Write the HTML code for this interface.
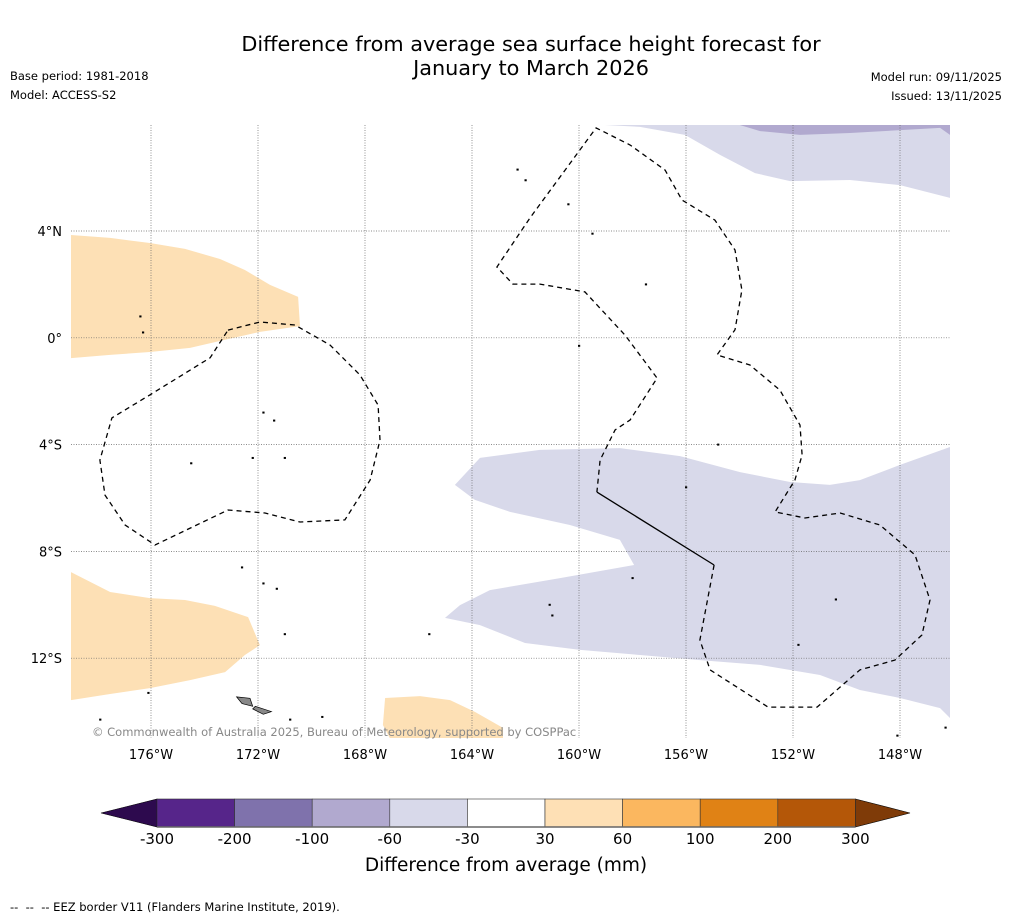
<!DOCTYPE html>
<html><head><meta charset="utf-8"><style>
body{margin:0;background:#fff;font-family:"DejaVu Sans","Liberation Sans",sans-serif;}
#wrap{position:relative;width:1011px;height:919px;overflow:hidden;}
.t{position:absolute;white-space:nowrap;color:#000;}
svg text{font-family:"DejaVu Sans","Liberation Sans",sans-serif;}
</style></head><body>
<div id="wrap">
<div class="t" style="left:0;width:1062px;text-align:center;top:32px;font-size:20.8px;line-height:24px;">Difference from average sea surface height forecast for<br>January to March 2026</div>
<div class="t" style="left:10px;top:69px;font-size:11.5px;">Base period: 1981-2018</div>
<div class="t" style="left:10px;top:88px;font-size:11.5px;">Model: ACCESS-S2</div>
<div class="t" style="right:9px;top:70px;font-size:11.5px;">Model run: 09/11/2025</div>
<div class="t" style="right:9px;top:89px;font-size:11.5px;">Issued: 13/11/2025</div>
<div class="t" style="left:10px;top:900px;font-size:11.5px;">-- &nbsp;-- &nbsp;-- EEZ border V11 (Flanders Marine Institute, 2019).</div>
<svg id="map" width="1011" height="919" style="position:absolute;left:0;top:0"></svg>
</div>
<script>
const lonTicks=[-176,-172,-168,-164,-160,-156,-152,-148];
const latTicks=[4,0,-4,-8,-12];
const lonLabels=["176°W","172°W","168°W","164°W","160°W","156°W","152°W","148°W"];
const latLabels=["4°N","0°","4°S","8°S","12°S"];
const orangeNorth=[[-179,3.85],[-177.53,3.74],[-176.04,3.55],[-174.73,3.33],[-173.42,2.95],[-172.49,2.54],[-171.55,1.98],[-170.5,1.53],[-170.43,0.44],[-171.93,0.22],[-173.23,-0.07],[-174.54,-0.38],[-176.04,-0.53],[-177.53,-0.64],[-179,-0.76]];
const orangeSouthWest=[[-179,-8.77],[-177.53,-9.52],[-176.04,-9.75],[-174.73,-9.82],[-173.61,-10.04],[-172.37,-10.46],[-171.93,-11.51],[-172.49,-11.88],[-173.23,-12.52],[-174.54,-12.82],[-176.04,-13.12],[-177.53,-13.34],[-179,-13.57]];
const orangeSouth=[[-167.25,-13.49],[-165.94,-13.42],[-164.82,-13.57],[-163.89,-14.01],[-162.84,-14.61],[-162.84,-15],[-167.07,-15],[-167.33,-14.5]];
const lavenderSouth=[[-164.64,-5.51],[-163.7,-4.5],[-161.46,-4.2],[-158.47,-4.13],[-156.22,-4.43],[-153.98,-5.03],[-152.11,-5.4],[-150.62,-5.51],[-149.5,-5.33],[-148,-4.76],[-146.13,-4.09],[-146.13,-14.24],[-146.5,-13.87],[-148,-13.49],[-149.5,-13.19],[-150.99,-12.63],[-153.23,-12.25],[-155.48,-12.07],[-157.72,-11.88],[-159.96,-11.69],[-162.02,-11.43],[-163.7,-10.76],[-165.01,-10.49],[-164.45,-10.01],[-163.33,-9.45],[-160.71,-9.0],[-157.94,-8.51],[-158.47,-7.57],[-160.34,-7.01],[-162.58,-6.52],[-163.89,-6.07]];
const lavenderNorth=[[-159.59,8],[-157.72,7.9],[-156.04,7.6],[-154.73,6.85],[-153.42,6.17],[-152.11,5.87],[-149.87,5.91],[-148,5.72],[-146.13,5.24],[-146.13,8]];
const purpleNorth=[[-154.09,8],[-153.23,7.74],[-151.74,7.6],[-149.87,7.67],[-146.5,7.86],[-146.13,7.6],[-146.13,8]];
const eezPhoenix=[[-173.12,0.29],[-171.93,0.59],[-170.62,0.48],[-169.31,-0.27],[-168.19,-1.39],[-167.51,-2.52],[-167.44,-3.83],[-167.81,-5.33],[-168.75,-6.82],[-170.43,-6.9],[-171.74,-6.56],[-173.12,-6.45],[-175.85,-7.76],[-176.97,-7.01],[-177.72,-5.89],[-177.91,-4.58],[-177.46,-3.0],[-176.04,-2.14],[-173.79,-0.75],[-173.12,0.29]];
const eezLine=[[-154.95,-8.51],[-155.48,-11.32],[-155.1,-12.44],[-152.93,-13.83],[-151.1,-13.83],[-149.5,-12.44],[-148.19,-12.07],[-147.18,-11.13],[-146.88,-9.82],[-147.44,-8.13],[-148.75,-7.01],[-150.24,-6.56],[-151.55,-6.75],[-152.67,-6.52],[-151.93,-5.33],[-151.66,-4.39],[-151.74,-3.27],[-152.49,-1.96],[-153.61,-1.02],[-154.84,-0.64],[-154.17,0.3],[-153.91,1.79],[-154.17,3.29],[-154.92,4.41],[-156.15,5.16],[-156.78,6.28],[-158.09,7.22],[-159.36,7.86],[-160.52,6.28],[-161.83,4.49],[-163.07,2.65],[-162.47,2.01],[-161.46,2.01],[-159.78,1.72],[-158.28,0.1],[-157.08,-1.51],[-158.09,-3.08],[-158.65,-3.45],[-159.21,-4.58],[-159.33,-5.78]];
const eezSolid=[[-159.33,-5.78],[-154.95,-8.51]];
const islands=[[-176.4,0.8],[-176.3,0.2],[-171.8,-2.8],[-171.4,-3.1],[-172.2,-4.5],[-171.0,-4.5],[-174.5,-4.7],[-159.5,3.9],[-157.5,2.0],[-162.3,6.3],[-162.0,5.9],[-160.4,5.0],[-160.0,-0.3],[-154.8,-4.0],[-156.0,-5.6],[-158.0,-9.0],[-161.1,-10.0],[-161.0,-10.4],[-150.4,-9.8],[-151.8,-11.5],[-165.6,-11.1],[-176.1,-13.3],[-177.9,-14.3],[-170.8,-14.3],[-169.6,-14.2],[-148.1,-14.9],[-146.3,-14.6],[-172.6,-8.6],[-171.8,-9.2],[-171.3,-9.4],[-171.0,-11.1]];
const samoa=[[[-172.8,-13.45],[-172.3,-13.5],[-172.2,-13.8],[-172.6,-13.7]],[[-172.1,-13.8],[-171.5,-14.0],[-171.8,-14.1],[-172.2,-13.9]]];
const cbBounds=["-300","-200","-100","-60","-30","30","60","100","200","300"];
const cbColors=["#56258a","#7f72ac","#b1a9cf","#d8d9ea","#ffffff","#fee0b5","#fbb75f","#e08215","#b45708"];

const NS='http://www.w3.org/2000/svg';
const svg=document.getElementById('map');
const X=lon=>151+(lon+176)*26.75;
const Y=lat=>231-(lat-4)*26.7;
function el(tag,attrs,parent){const e=document.createElementNS(NS,tag);for(const k in attrs)e.setAttribute(k,attrs[k]);(parent||svg).appendChild(e);return e;}
const pts=a=>a.map(p=>X(p[0]).toFixed(1)+','+Y(p[1]).toFixed(1)).join(' ');
const clip=el('clipPath',{id:'mc'});el('rect',{x:71,y:125,width:879,height:613},clip);
const g=el('g',{'clip-path':'url(#mc)'});


function poly(a,fill,name){const p=el('polygon',{points:pts(a),fill:fill},g);}
poly(orangeNorth,'#fde0b5','anomaly-30-60-north');
poly(orangeSouthWest,'#fde0b5','anomaly-30-60-southwest');
poly(orangeSouth,'#fde0b5','anomaly-30-60-south');
poly(lavenderSouth,'#d8d9ea','anomaly-neg60-neg30-south');
poly(lavenderNorth,'#d8d9ea','anomaly-neg60-neg30-north');
poly(purpleNorth,'#b1a9cf','anomaly-neg100-neg60-north');
lonTicks.forEach((v,i)=>{const l=el('line',{x1:X(v),x2:X(v),y1:125,y2:738,stroke:'#666','stroke-width':0.7,'stroke-dasharray':'1,1.5'},g);
 const t=el('text',{x:X(v),y:759,'text-anchor':'middle','font-size':13});t.textContent=lonLabels[i];});
latTicks.forEach((v,i)=>{const l=el('line',{x1:71,x2:950,y1:Y(v),y2:Y(v),stroke:'#666','stroke-width':0.7,'stroke-dasharray':'1,1.5'},g);
 const t=el('text',{x:62,y:Y(v)+5,'text-anchor':'end','font-size':13});t.textContent=latLabels[i];});
[eezPhoenix,eezLine].forEach(a=>{const p=el('polyline',{points:pts(a),fill:'none',stroke:'#000','stroke-width':1.3,'stroke-dasharray':'5,4'},g);});
const s=el('polyline',{points:pts(eezSolid),fill:'none',stroke:'#000','stroke-width':1.3},g);


islands.forEach(p=>{const r=el('rect',{x:X(p[0])-1,y:Y(p[1])-1,width:2.2,height:2,fill:'#000'},g);});
samoa.forEach(a=>{const p=el('polygon',{points:pts(a),fill:'#888',stroke:'#000','stroke-width':0.7},g);});
const cp=el('text',{x:92,y:736,'font-size':11.5,fill:'#888'});
cp.textContent='© Commonwealth of Australia 2025, Bureau of Meteorology, supported by COSPPac';


const cb=el('g',{});


const cx0=157,cw=77.6,cy=799,ch=28;
el('polygon',{points:`${cx0},${cy} ${cx0},${cy+ch} 101,${cy+ch/2}`,fill:'#2d0a4e',stroke:'#000','stroke-width':0.6},cb);
const rx=cx0+cw*cbColors.length;
el('polygon',{points:`${rx},${cy} ${rx},${cy+ch} 910,${cy+ch/2}`,fill:'#7f3b08',stroke:'#000','stroke-width':0.6},cb);
cbColors.forEach((c,i)=>{const r=el('rect',{x:cx0+i*cw,y:cy,width:cw,height:ch,fill:c,stroke:'#333','stroke-width':0.6},cb);});
el('line',{x1:cx0,x2:rx,y1:cy+ch,y2:cy+ch,stroke:'#666','stroke-width':1.5},cb);
cbBounds.forEach((b,i)=>{const t=el('text',{x:cx0+i*cw,y:844,'text-anchor':'middle','font-size':15},cb);t.textContent=b;});
const ct=el('text',{x:506,y:871,'text-anchor':'middle','font-size':18.5},cb);
ct.textContent='Difference from average (mm)';


</script>
</body></html>
